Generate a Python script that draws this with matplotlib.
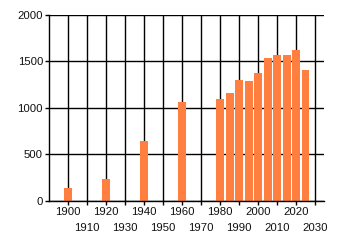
import matplotlib
matplotlib.use('Agg')
import matplotlib.pyplot as plt

# donnees
annees = [1900, 1920, 1940, 1960, 1980, 1985, 1990, 1995, 2000, 2005, 2010, 2015, 2020, 2025]
valeurs = [140, 237, 645, 1065, 1097, 1161, 1301, 1290, 1376, 1538, 1570, 1570, 1624, 1409]
ticks_haut = [1900, 1920, 1940, 1960, 1980, 2000, 2020]
ticks_bas = [1910, 1930, 1950, 1970, 1990, 2010, 2030]

plt.rcParams['font.family'] = ['Liberation Sans', 'DejaVu Sans']

fig = plt.figure(figsize=(3.4, 2.45), dpi=100)
ax = fig.add_axes([0.145, 0.1796, 0.808, 0.7592])

ax.bar(annees, valeurs, width=4.1, color='#ff7f41', zorder=3)

ax.set_xlim(1890, 2034.7)
ax.set_ylim(0, 2000)
ax.set_yticks([0, 500, 1000, 1500, 2000])
ax.set_xticks(ticks_haut)
ax.set_xticks(ticks_bas, minor=True)
ax.set_xticklabels([str(a) for a in ticks_haut])
ax.set_xticklabels([str(a) for a in ticks_bas], minor=True)

ax.grid(which='both', color='black', linewidth=1.0, zorder=1)
ax.tick_params(axis='both', which='both', length=3, width=1.0, colors='black',
               labelsize=8.2, labelcolor='#101010')
ax.tick_params(axis='x', which='major', pad=1.5)
ax.tick_params(axis='x', which='minor', pad=12.5)
ax.tick_params(axis='y', pad=1.5)

for s in ['top', 'right']:
    ax.spines[s].set_visible(False)
for s in ['left', 'bottom']:
    ax.spines[s].set_linewidth(1.0)
    ax.spines[s].set_zorder(4)

fig.savefig('out.png', dpi=100)
